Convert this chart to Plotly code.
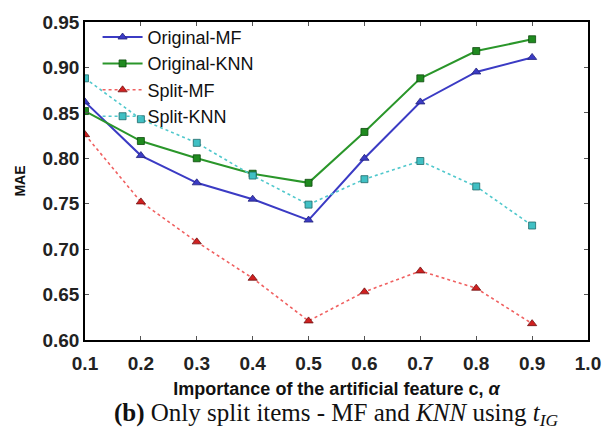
import plotly.graph_objects as go

alpha = [0.1, 0.2, 0.3, 0.4, 0.5, 0.6, 0.7, 0.8, 0.9]
original_mf = [0.862, 0.803, 0.773, 0.755, 0.732, 0.800, 0.862, 0.895, 0.911]
original_knn = [0.852, 0.819, 0.800, 0.783, 0.773, 0.829, 0.888, 0.918, 0.931]
split_mf = [0.826, 0.752, 0.708, 0.668, 0.621, 0.653, 0.676, 0.657, 0.618]
split_knn = [0.888, 0.843, 0.817, 0.781, 0.749, 0.777, 0.797, 0.769, 0.726]

x_ticks = [0.1, 0.2, 0.3, 0.4, 0.5, 0.6, 0.7, 0.8, 0.9, 1.0]
y_ticks = [0.60, 0.65, 0.70, 0.75, 0.80, 0.85, 0.90, 0.95]

FONT = "Liberation Sans"

fig = go.Figure()
fig.add_trace(go.Scatter(
    x=alpha, y=original_mf, name="Original-MF", mode="lines+markers",
    line=dict(color="#3b3bc4", width=2),
    marker=dict(symbol="triangle-up", size=8, color="#3b3bc4",
                line=dict(color="#22227a", width=0.8))))
fig.add_trace(go.Scatter(
    x=alpha, y=original_knn, name="Original-KNN", mode="lines+markers",
    line=dict(color="#2a962a", width=2),
    marker=dict(symbol="square", size=7, color="#1f8a1f",
                line=dict(color="#0e4a0e", width=0.8))))
fig.add_trace(go.Scatter(
    x=alpha, y=split_mf, name="Split-MF", mode="lines+markers",
    line=dict(color="#f06060", width=1.6, dash="dot"),
    marker=dict(symbol="triangle-up", size=8, color="#d02020",
                line=dict(color="#701010", width=0.8))))
fig.add_trace(go.Scatter(
    x=alpha, y=split_knn, name="Split-KNN", mode="lines+markers",
    line=dict(color="#50c8cc", width=1.6, dash="dot"),
    marker=dict(symbol="square", size=7, color="#40c0c4",
                line=dict(color="#206868", width=0.8))))

axis_common = dict(
    showgrid=False, zeroline=False, showline=True, linecolor="black",
    linewidth=1.5, mirror="ticks", ticks="inside", ticklen=4,
    tickcolor="#555555", tickwidth=1,
)

fig.update_xaxes(
    range=[0.1, 1.0], tickvals=x_ticks,
    ticktext=[f"{v:.1f}" for v in x_ticks],
    tickfont=dict(family=FONT, size=19, color="#222222", weight="bold"),
    ticklabelstandoff=5,
    title=dict(text="Importance of the artificial feature c, <i>α</i>",
               font=dict(family=FONT, size=18, color="#111111", weight="bold"),
               standoff=10),
    **axis_common)
fig.update_yaxes(
    range=[0.60, 0.95], tickvals=y_ticks,
    ticktext=[f"{v:.2f}" for v in y_ticks],
    tickfont=dict(family=FONT, size=19, color="#222222", weight="bold"),
    title=dict(text="<b>MAE</b>", font=dict(family=FONT, size=14, color="#111111"),
               standoff=14),
    **axis_common)

fig.update_layout(
    width=613, height=436,
    margin=dict(l=85, r=15, t=16, b=96),
    paper_bgcolor="white", plot_bgcolor="white",
    showlegend=True,
    legend=dict(x=0.025, y=1.01, xanchor="left", yanchor="top",
                bgcolor="rgba(0,0,0,0)", borderwidth=0,
                font=dict(family=FONT, size=18, color="#111111"),
                tracegroupgap=0, itemwidth=40),
    annotations=[dict(
        text="<b>(b)</b> Only split items - MF and <i>KNN</i> using <i>t</i><sub><i>IG</i></sub>",
        xref="paper", yref="paper", x=0.5, y=-0.234, xanchor="center", yanchor="middle",
        showarrow=False, font=dict(family="Liberation Serif", size=25, color="#111111"))],
)

fig.write_html("out.html")
